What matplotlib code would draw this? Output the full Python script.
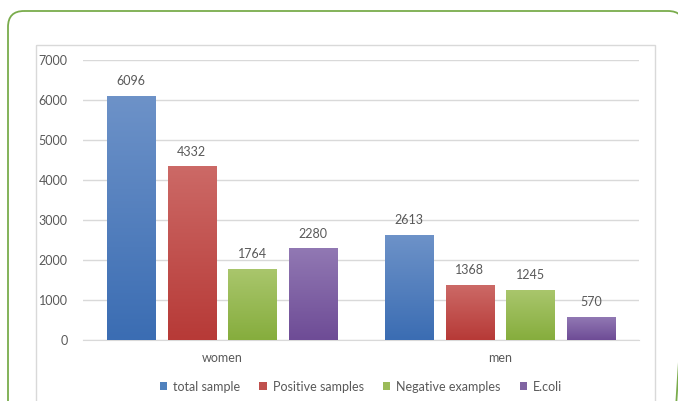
import numpy as np
import matplotlib.pyplot as plt
from matplotlib.patches import FancyBboxPatch, Rectangle
from matplotlib.colors import LinearSegmentedColormap

# ===== data =====
categories = ['women', 'men']
series = ['total sample', 'Positive samples', 'Negative examples', 'E.coli']
total_sample = [6096, 2613]
positive = [4332, 1368]
negative = [1764, 1245]
ecoli = [2280, 570]
values = [total_sample, positive, negative, ecoli]

# colours (top, bottom) of the gradient
top_cols = ['#6d92c8', '#cc6966', '#a9c66c', '#9178b3']
bot_cols = ['#3b6db3', '#b73a37', '#86ad3d', '#6e4c96']
base_cols = ['#4f81bd', '#c0504d', '#9bbb59', '#8064a2']

plt.rcParams['font.family'] = ['Lato', 'DejaVu Sans']
txt = '#595959'

W, H = 678, 401
fig = plt.figure(figsize=(W / 100, H / 100), dpi=100)

# background axes in pixel units for the frames
bg = fig.add_axes([0, 0, 1, 1])
bg.set_xlim(0, W)
bg.set_ylim(H, 0)
bg.axis('off')
bg.add_patch(FancyBboxPatch((8, 11), 676, 430,
                            boxstyle='round,pad=0,rounding_size=16',
                            fill=False, edgecolor='#7aac4c', lw=1.3))
bg.add_patch(Rectangle((36, 45), 655 - 36, 420, fill=False,
                       edgecolor='#d9d9d9', lw=1))

ax = fig.add_axes([83 / W, 1 - 340 / H, (639 - 83) / W, (340 - 60) / H])

x = np.arange(len(categories))
bw = 0.173
step = 0.218
offs = (np.arange(len(series)) - 1.5) * step

for i, vals in enumerate(values):
    cmap = LinearSegmentedColormap.from_list('g%d' % i, [bot_cols[i], top_cols[i]])
    bars = ax.bar(x + offs[i], vals, bw, color=base_cols[i], label=series[i],
                  zorder=2)
    for b in bars:
        grad = np.linspace(0, 1, 100).reshape(-1, 1)
        ax.imshow(grad, cmap=cmap, origin='lower', aspect='auto',
                  extent=[b.get_x(), b.get_x() + b.get_width(), 0, b.get_height()],
                  zorder=3)
    for xi, v in zip(x + offs[i], vals):
        ax.text(xi, v + 230, str(v), ha='center', va='bottom',
                fontsize=9, color=txt)

ax.set_xlim(-0.5, 1.5)
ax.set_ylim(0, 7000)
ax.set_yticks(range(0, 7001, 1000))
ax.set_xticks(x)
ax.set_xticklabels(categories)
ax.grid(axis='y', color='#d9d9d9', lw=1, zorder=0)
for s in ['top', 'right', 'left']:
    ax.spines[s].set_visible(False)
ax.spines['bottom'].set_color('#d9d9d9')
ax.tick_params(length=0, colors=txt, labelsize=9)
ax.tick_params(axis='y', pad=11)
ax.tick_params(axis='x', pad=9)

leg = ax.legend(loc='upper center', bbox_to_anchor=(0.5, -0.105), ncol=4,
                frameon=False, fontsize=9, handlelength=0.6, handleheight=0.6,
                handletextpad=0.5, columnspacing=1.5, labelcolor=txt)

fig.savefig('out.png', dpi=100)
